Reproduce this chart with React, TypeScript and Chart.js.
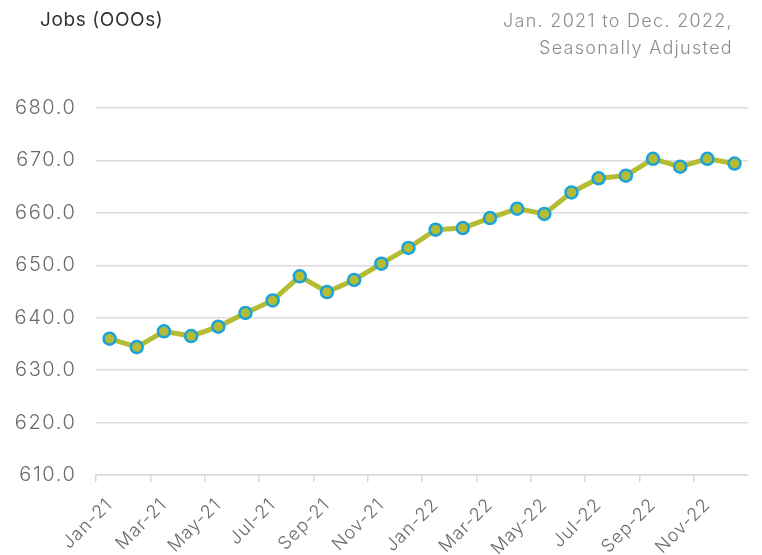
import React, { useEffect, useRef } from "react";
import { Chart, registerables } from "chart.js";

Chart.register(...registerables);

const months: string[] = [
  "Jan-21", "Feb-21", "Mar-21", "Apr-21", "May-21", "Jun-21",
  "Jul-21", "Aug-21", "Sep-21", "Oct-21", "Nov-21", "Dec-21",
  "Jan-22", "Feb-22", "Mar-22", "Apr-22", "May-22", "Jun-22",
  "Jul-22", "Aug-22", "Sep-22", "Oct-22", "Nov-22", "Dec-22",
];

const jobs: number[] = [
  636.0, 634.4, 637.4, 636.5, 638.3, 640.9,
  643.3, 647.9, 644.9, 647.2, 650.3, 653.3,
  656.8, 657.1, 659.0, 660.8, 659.8, 663.9,
  666.6, 667.1, 670.3, 668.8, 670.3, 669.4,
];

const yMin = 610;
const yMax = 680;
const yStep = 10;

const title = "Jobs (OOOs)";
const subtitleLines: string[] = ["Jan. 2021 to Dec. 2022,", "Seasonally Adjusted"];

const FONT = "Inter, 'Noto Sans', sans-serif";

const spacingPlugin = {
  id: "labelSpacing",
  afterLayout(chart: any) {
    const apply = (scale: any, spacing: string) => {
      if (!scale || scale.__spaced) return;
      const orig = scale.drawLabels;
      scale.drawLabels = function (area: any) {
        const ctx = chart.ctx;
        ctx.save();
        (ctx as any).letterSpacing = spacing;
        orig.call(this, area);
        ctx.restore();
      };
      scale.__spaced = true;
    };
    apply(chart.scales.y, "1.6px");
    apply(chart.scales.x, "1px");
  },
};

export default function App() {
  const canvasRef = useRef<HTMLCanvasElement | null>(null);

  useEffect(() => {
    const canvas = canvasRef.current;
    if (!canvas) return;
    const chart = new Chart(canvas, {
      type: "line",
      data: {
        labels: months,
        datasets: [
          {
            data: jobs,
            borderColor: "#b4bc34",
            borderWidth: 5,
            backgroundColor: "#b4bc34",
            pointBackgroundColor: "#b4bc34",
            pointBorderColor: "#1aa2dc",
            pointBorderWidth: 2.5,
            pointRadius: 6,
            tension: 0,
            fill: false,
          },
        ],
      },
      options: {
        responsive: false,
        animation: false,
        maintainAspectRatio: false,
        layout: { padding: { top: 108, right: 9, left: 0, bottom: 0 } },
        plugins: {
          legend: { display: false },
          tooltip: { enabled: false },
          title: { display: false },
        },
        scales: {
          x: {
            offset: true,
            afterFit: (s: any) => {
              s.height = 80;
            },
            grid: {
              offset: true,
              drawOnChartArea: false,
              drawTicks: true,
              tickLength: 7,
              color: (ctx: any) => (ctx.index % 2 === 0 ? "#d9d9d9" : "rgba(0,0,0,0)"),
              lineWidth: 1.5,
            },
            border: { display: true, color: "#d9d9d9", width: 1.5 },
            ticks: {
              autoSkip: false,
              minRotation: 45,
              maxRotation: 45,
              color: "#6b6b6b",
              padding: 12,
              font: { family: FONT, size: 18, weight: "300" },
              callback: (_v: any, i: number) => (i % 2 === 0 ? months[i] : ""),
            },
          },
          y: {
            min: yMin,
            max: yMax,
            afterFit: (s: any) => {
              s.width = 96;
            },
            grid: {
              drawTicks: false,
              color: "#dcdcdc",
              lineWidth: 1.5,
            },
            border: { display: false },
            ticks: {
              stepSize: yStep,
              padding: 19.5,
              color: "#6b6b6b",
              font: { family: FONT, size: 20, weight: "300" },
              callback: (v: any) => Number(v).toFixed(1),
            },
          },
        },
      },
      plugins: [spacingPlugin],
    });
    return () => chart.destroy();
  }, []);

  return (
    <div
      style={{
        position: "absolute",
        left: 0,
        top: 0,
        width: 762,
        height: 555,
        background: "#fff",
        overflow: "hidden",
      }}
    >
      <canvas
        ref={canvasRef}
        width={762}
        height={555}
        style={{ position: "absolute", left: 0, top: 0, width: 762, height: 555 }}
      />
      <div
        style={{
          position: "absolute",
          left: 40,
          top: 8,
          fontFamily: FONT,
          fontSize: 19,
          letterSpacing: "0.6px",
          color: "#333",
          lineHeight: "24px",
          whiteSpace: "nowrap",
        }}
      >
        {title}
      </div>
      <div
        style={{
          position: "absolute",
          right: 29,
          top: 7,
          fontFamily: FONT,
          fontSize: 18,
          fontWeight: 300,
          letterSpacing: "1.3px",
          color: "#8c8c8c",
          lineHeight: "27px",
          textAlign: "right",
          whiteSpace: "nowrap",
        }}
      >
        {subtitleLines.map((l, i) => (
          <div key={i}>{l}</div>
        ))}
      </div>
    </div>
  );
}
